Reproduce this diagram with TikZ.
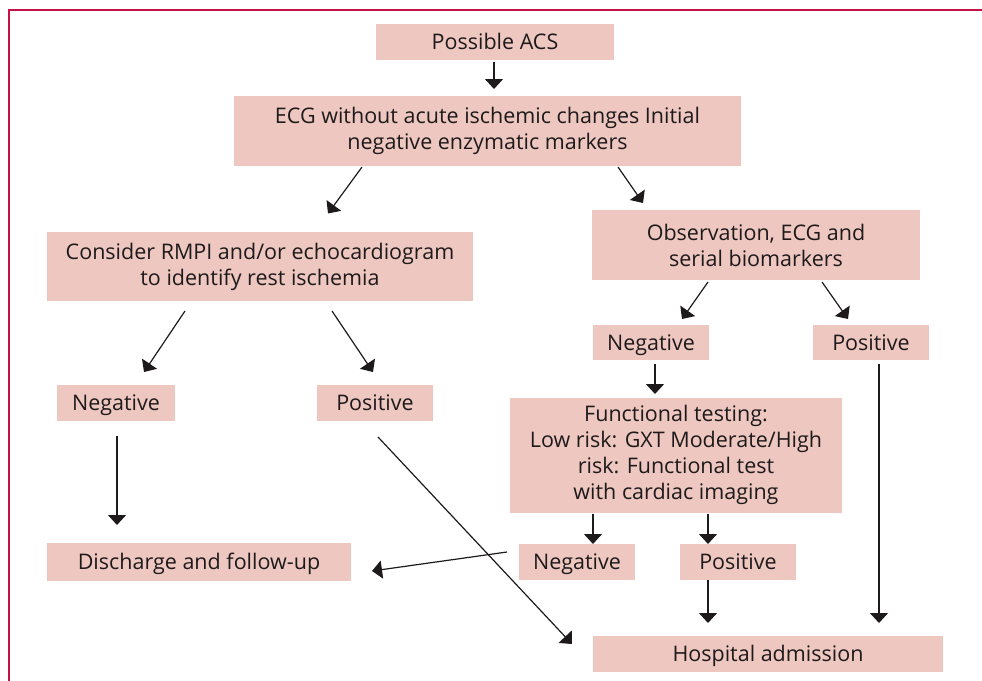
\documentclass[tikz,border=0pt]{standalone}
\usepackage{fontspec}
\setmainfont{Open Sans}
\usetikzlibrary{arrows.meta}
\definecolor{frame}{RGB}{196,18,72}
\definecolor{boxfill}{RGB}{238,200,192}
\definecolor{ink}{RGB}{30,26,27}
\begin{document}
\begin{tikzpicture}[x=1pt,y=-1pt,
  box/.style={fill=boxfill, draw=none, inner sep=0pt, align=center, text=ink,
    font=\fontsize{21.5}{26}\selectfont},
  one/.style={box, text height=15pt, text depth=0pt},
  arr/.style={draw=ink, line width=1.2pt, -{Triangle[length=10pt,width=18pt]}}]
\useasboundingbox (0,0) rectangle (982,680);
\draw[frame, line width=2.2pt] (990,10) -- (9,10) -- (9,690);
\node[one, minimum width=238pt, minimum height=36pt] (acs) at (495,42) {Possible ACS};
\node[box, minimum width=507pt, minimum height=70pt] (ecg) at (487.5,131) {ECG without acute ischemic changes Initial\\negative enzymatic markers};
\node[box, minimum width=426pt, minimum height=69pt] (rmpi) at (260,266.5) {Consider RMPI and/or echocardiogram\\to identify rest ischemia};
\node[box, minimum width=328pt, minimum height=70pt] (obs) at (756,245) {Observation, ECG and\\serial biomarkers};
\node[one, minimum width=118pt, minimum height=36pt] (negL) at (116,403) {Negative};
\node[one, minimum width=116pt, minimum height=36pt] (posL) at (375,403) {Positive};
\node[one, minimum width=116pt, minimum height=35pt] (negR) at (651,342.5) {Negative};
\node[one, minimum width=116pt, minimum height=35pt] (posR) at (871,342.5) {Positive};
\node[box, minimum width=332pt, minimum height=115pt] (func) at (676,455) {Functional testing:\\Low risk: GXT Moderate/High\\risk: Functional test\\with cardiac imaging};
\node[one, minimum width=304pt, minimum height=38pt] (dis) at (199,562) {Discharge and follow-up};
\node[one, minimum width=116pt, minimum height=36pt] (negB) at (577,562) {Negative};
\node[one, minimum width=116pt, minimum height=36pt] (posB) at (738,562) {Positive};
\node[one, minimum width=350pt, minimum height=36pt] (hosp) at (768,654) {Hospital admission};
% connectors
\draw[arr] ([shift={(-1,20)}]acs.center) -- ([shift={(6.5,-42)}]ecg.center);
\draw[arr] ([shift={(-125.5,36)}]ecg.center) -- ([shift={(68,-53)}]rmpi.center);
\draw[arr] ([shift={(130.5,36)}]ecg.center) -- ([shift={(-113,-42)}]obs.center);
\draw[arr] ([shift={(-75,44.5)}]rmpi.center) -- ([shift={(28,-31)}]negL.center);
\draw[arr] ([shift={(72,44.5)}]rmpi.center) -- ([shift={(-2,-31)}]posL.center);
\draw[arr] ([shift={(-48,37)}]obs.center) -- ([shift={(31,-23.5)}]negR.center);
\draw[arr] ([shift={(66,37)}]obs.center) -- ([shift={(-23,-23.5)}]posR.center);
\draw[arr] ([shift={(4,21.5)}]negR.center) -- ([shift={(-21,-61)}]func.center);
\draw[arr] ([shift={(8,21.5)}]posR.center) -- ([shift={(111,-31)}]hosp.center);
\draw[arr] ([shift={(1,33)}]negL.center) -- ([shift={(-82,-37)}]dis.center);
\draw[arr] ([shift={(3,34)}]posL.center) -- ([shift={(-196,-10)}]hosp.center);
\draw[arr] ([shift={(-83,58.5)}]func.center) -- ([shift={(16,-18)}]negB.center);
\draw[arr] ([shift={(32,58.5)}]func.center) -- ([shift={(-30,-18)}]posB.center);
\draw[arr] ([shift={(-70,-10)}]negB.center) -- ([shift={(173,9)}]dis.center);
\draw[arr] ([shift={(-30,18)}]posB.center) -- ([shift={(-60,-31)}]hosp.center);
\end{tikzpicture}
\end{document}
